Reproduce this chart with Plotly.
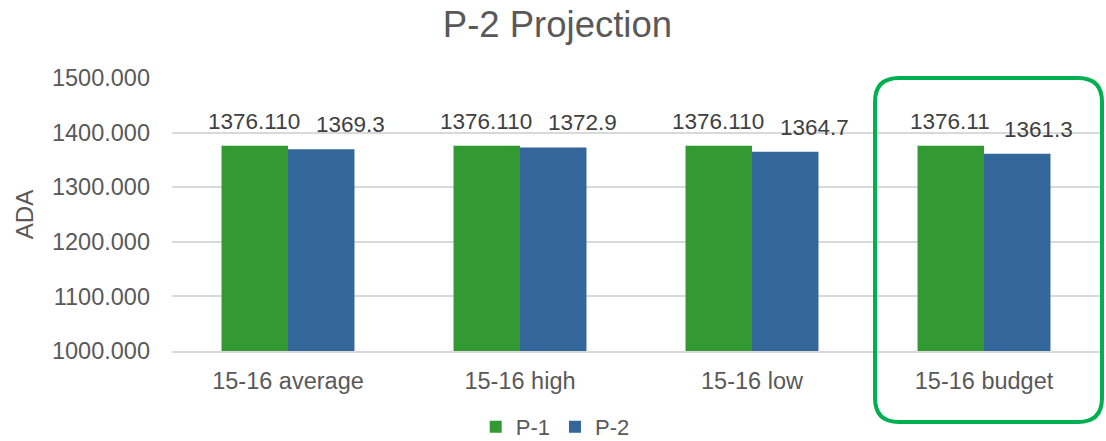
import plotly.graph_objects as go

categories = ["15-16 average", "15-16 high", "15-16 low", "15-16 budget"]
p1_values = [1376.110, 1376.110, 1376.110, 1376.11]
p2_values = [1369.3, 1372.9, 1364.7, 1361.3]
p1_labels = ["1376.110", "1376.110", "1376.110", "1376.11"]
p2_labels = ["1369.3", "1372.9", "1364.7", "1361.3"]
y_ticks = [1000, 1100, 1200, 1300, 1400, 1500]
y_tick_labels = ["1000.000", "1100.000", "1200.000", "1300.000", "1400.000", "1500.000"]

GREEN = "#339933"
BLUE = "#336699"
FONT = "Liberation Sans, Arial, sans-serif"
GRAY = "#595959"

W, H = 1106, 441
ML, MR, MT, MB = 172, 6, 78, 90
BARGAP = 0.427

fig = go.Figure()
fig.add_trace(go.Bar(name="P-1", x=categories, y=p1_values, marker=dict(color=GREEN, line=dict(width=0))))
fig.add_trace(go.Bar(name="P-2", x=categories, y=p2_values, marker=dict(color=BLUE, line=dict(width=0))))

bw = (1 - BARGAP) / 2
annotations = []
for i, cat in enumerate(categories):
    annotations.append(dict(x=i - bw / 2, y=p1_values[i], xref="x", yref="y", text=p1_labels[i],
                            showarrow=False, yanchor="bottom", yshift=10, xshift=-1,
                            font=dict(family=FONT, size=22.5, color="#404040")))
    annotations.append(dict(x=i + bw / 2, y=p2_values[i], xref="x", yref="y", text=p2_labels[i],
                            showarrow=False, yanchor="bottom", yshift=10, xshift=29 if i < 3 else 21,
                            font=dict(family=FONT, size=22.5, color="#404040")))

# rounded highlight box around the last category (in paper coords)
pw = W - ML - MR
ph = H - MT - MB
x0 = (875 - ML) / pw
x1 = (1102 - ML) / pw
y1 = 1 - (78 - MT) / ph
y0 = 1 - (422 - MT) / ph
rx = 24 / pw
ry = 24 / ph
path = (f"M {x0+rx},{y1} L {x1-rx},{y1} Q {x1},{y1} {x1},{y1-ry} "
        f"L {x1},{y0+ry} Q {x1},{y0} {x1-rx},{y0} L {x0+rx},{y0} "
        f"Q {x0},{y0} {x0},{y0+ry} L {x0},{y1-ry} Q {x0},{y1} {x0+rx},{y1} Z")

fig.update_layout(
    width=W, height=H,
    margin=dict(l=ML, r=MR, t=MT, b=MB, autoexpand=False),
    paper_bgcolor="white", plot_bgcolor="white",
    barmode="group", bargap=BARGAP, bargroupgap=0,
    font=dict(family=FONT, color=GRAY),
    title=dict(text="P-2 Projection", x=0.504, xref="container", y=1 - 24 / H, yref="container",
               xanchor="center", yanchor="middle", font=dict(family=FONT, size=36.5, color=GRAY)),
    xaxis=dict(showgrid=False, showline=True, linecolor="#d9d9d9", linewidth=1.5,
               tickfont=dict(family=FONT, size=23.5, color=GRAY), ticklabelstandoff=8,
               ticks=""),
    yaxis=dict(range=[1000, 1500], tickvals=y_ticks, ticktext=y_tick_labels,
               showgrid=True, gridcolor="#d9d9d9", gridwidth=1.5, zeroline=False,
               showline=False, tickfont=dict(family=FONT, size=23.5, color=GRAY),
               ticklabelstandoff=21,
               title=dict(text="ADA", font=dict(family=FONT, size=24, color=GRAY), standoff=11)),
    legend=dict(orientation="h", xref="container", yref="container", x=0.502, y=1 - 427 / H,
                xanchor="center", yanchor="middle", font=dict(family=FONT, size=22, color=GRAY),
                itemwidth=30, traceorder="normal"),
    annotations=annotations,
    shapes=[dict(type="path", path=path, xref="paper", yref="paper",
                 line=dict(color="#00b050", width=4), fillcolor="rgba(0,0,0,0)", layer="above")],
)

fig.write_html("out.html", config={"displayModeBar": False},
               post_script="document.body.style.margin='0';document.body.style.overflow='hidden';")
